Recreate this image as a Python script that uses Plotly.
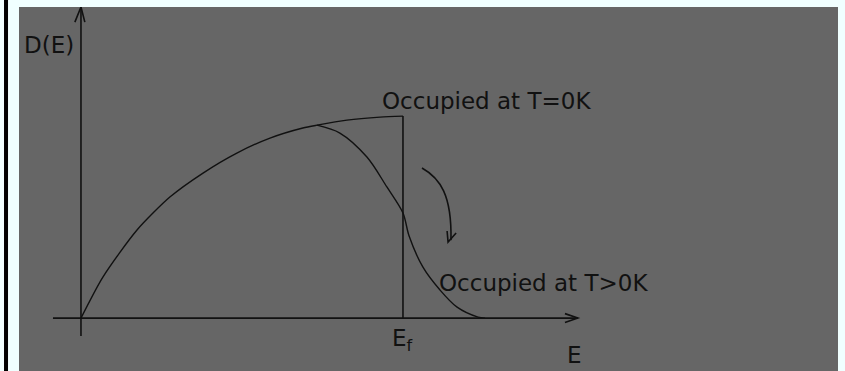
import plotly.graph_objects as go

# Density of states filled up to the Fermi energy (E in units of E_f, D in units of D(E_f))
E_t0 = [0.0, 0.068, 0.174, 0.276, 0.379, 0.484, 0.587, 0.689, 0.733, 0.826, 0.929, 1.0]
D_t0 = [0.0, 0.203, 0.436, 0.599, 0.718, 0.817, 0.891, 0.941, 0.955, 0.980, 0.995, 1.0]

# Occupied states at finite temperature (Fermi-smeared tail)
E_t = [0.733, 0.804, 0.888, 0.950, 1.0, 1.019, 1.062, 1.115, 1.168, 1.233, 1.255]
D_t = [0.955, 0.916, 0.797, 0.649, 0.520, 0.406, 0.252, 0.139, 0.054, 0.005, 0.0]

E_fermi = 1.0
D_fermi = 1.0

INK = "#111111"
BG = "#666666"
FONT = "DejaVu Sans"

fig = go.Figure()
fig.add_trace(go.Scatter(x=E_t0, y=D_t0, mode="lines", line=dict(color=INK, width=1.4, shape="spline", smoothing=0.7),
                         hoverinfo="skip"))
fig.add_trace(go.Scatter(x=E_t, y=D_t, mode="lines", line=dict(color=INK, width=1.4, shape="spline", smoothing=0.9),
                         hoverinfo="skip"))

line = dict(color=INK, width=1.6)
shapes = [
    # black strip at the left edge
    dict(type="rect", xref="paper", yref="paper", x0=-0.0183, x1=-0.0134, y0=-0.01, y1=1.03,
         fillcolor="#000000", line=dict(width=0), layer="above"),
    # y axis with arrowhead
    dict(type="line", x0=0, x1=0, y0=-0.089, y1=1.540, line=line),
    dict(type="path", path="M -0.019,1.465 L 0,1.540 L 0.012,1.465", line=line),
    # x axis with arrowhead
    dict(type="line", x0=-0.087, x1=1.543, y0=0, y1=0, line=line),
    dict(type="path", path="M 1.503,0.022 L 1.543,0 L 1.503,-0.022", line=line),
    # Fermi level
    dict(type="line", x0=E_fermi, x1=E_fermi, y0=0, y1=D_fermi, line=line),
    # curved arrow showing electrons moving above E_f
    dict(type="path", path="M 1.059,0.743 C 1.115,0.693 1.152,0.609 1.149,0.386", line=line),
    dict(type="path", path="M 1.137,0.431 L 1.140,0.376 L 1.165,0.421", line=line),
]

txt = dict(family=FONT, size=23, color=INK)
annotations = [
    dict(text="D(E)", x=-0.183, y=1.351, xanchor="left", yanchor="middle", showarrow=False, font=txt),
    dict(text="Occupied at T=0K", x=0.929, y=1.074, xanchor="left", yanchor="middle", showarrow=False, font=txt),
    dict(text="Occupied at T>0K", x=1.105, y=0.173, xanchor="left", yanchor="middle", showarrow=False, font=txt),
    dict(text="E<sub>f</sub>", x=0.960, y=-0.108, xanchor="left", yanchor="middle", showarrow=False, font=txt),
    dict(text="E", x=1.503, y=-0.183, xanchor="left", yanchor="middle", showarrow=False, font=txt),
]

fig.update_layout(
    width=845, height=371,
    margin=dict(l=19, r=7, t=7, b=0),
    paper_bgcolor="#F0FFFF",
    plot_bgcolor=BG,
    showlegend=False,
    shapes=shapes,
    annotations=annotations,
    xaxis=dict(range=[-0.1925, 2.351], visible=False, fixedrange=True),
    yaxis=dict(range=[-0.262, 1.540], visible=False, fixedrange=True),
)

fig.write_html("out.html")
